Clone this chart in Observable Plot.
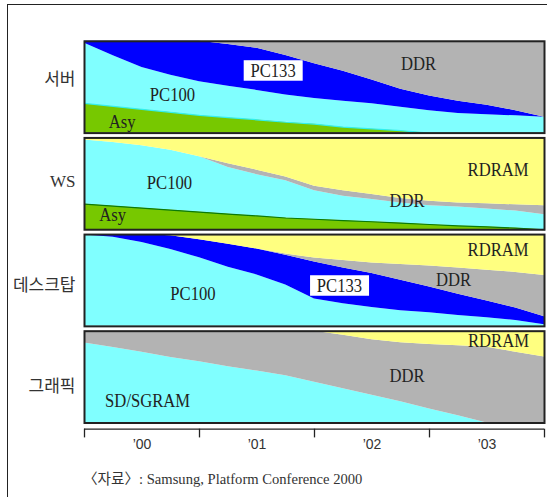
<!DOCTYPE html>
<html><head><meta charset="utf-8">
<script src="https://cdn.jsdelivr.net/npm/d3@7"></script>
<script src="https://cdn.jsdelivr.net/npm/@observablehq/plot@0.6"></script>
<style>
html,body{margin:0;padding:0;background:#fff;overflow:hidden;}
#wrap{position:relative;width:547px;height:497px;overflow:hidden;background:#fff;}
#border{position:absolute;left:7px;top:4px;width:700px;height:700px;border-left:1px solid #222;border-top:1px solid #222;}
#main{position:absolute;left:0;top:0;}
#axis{position:absolute;left:0;top:420px;}
#caption{position:absolute;left:83px;top:470.5px;font-family:"Liberation Serif","Noto Sans CJK KR";font-size:14.6px;line-height:16px;color:#333;white-space:nowrap;}
</style></head><body>
<div id="wrap"><div id="border"></div><div id="main"></div><div id="axis"></div><div id="caption">〈자료〉: Samsung, Platform Conference 2000</div></div>
<script>
// time in years since start of 2000 (quarter steps)
const t = [0, 0.25, 0.5, 0.75, 1, 1.25, 1.5, 1.75, 2, 2.25, 2.5, 2.75, 3, 3.25, 3.5, 3.75, 4];

const panels = ["서버", "WS", "데스크탑", "그래픽"];

// 서버 (share %, bottom to top)
const serverAsy   = [32.3,29.1,25.8,22.6,19.3,16.8,14.5,11.8,9.8,6.5,4.6,2.6,0,0,0,0,0];
const serverPC100 = [65.5,55.2,45.6,40.3,36.6,34.3,32.0,29.8,27.9,28.3,27.5,25.6,24.4,21.3,20.0,18.8,17.3];
const serverPC133 = [2.2,15.7,28.6,37.1,44.1,45.5,45.8,42.9,37.9,32.5,25.7,19.5,15.9,13.5,10.4,5.6,0];
const serverDDR   = [0,0,0,0,0,3.4,7.7,15.5,24.4,32.7,42.2,52.3,59.7,65.2,69.6,75.6,82.7];

// WS
const wsAsy   = [27.9,25.8,23.6,21.4,19.2,17.1,15.0,12.8,11.4,10.0,8.7,7.3,5.7,4.2,3.2,1.8,0];
const wsPC100 = [69.9,69.3,67.9,65.2,60.4,50.7,44.9,40.5,31.2,26.6,24.1,21.9,20.3,20.5,19.5,18.5,16.2];
const wsDDR   = [0,0,0,0,0,4.2,5.0,4.2,4.9,6.0,5.5,4.7,4.9,4.3,5.5,6.8,9.9];
const wsRDRAM = [2.2,4.9,8.5,13.4,20.4,28,35.1,42.5,52.5,57.4,61.7,66.1,69.1,71,71.8,72.9,73.9];

// 데스크탑
const deskPC100 = [99.4,97.1,91.3,83.6,74.7,64.5,56,45,29.8,24.6,20.6,17,14.7,11.9,9.3,6.4,1.8];
const deskPC133 = [0.6,2.9,8.7,15.2,19.6,25,28.3,32.5,40.4,39,36.9,33.1,28.1,23.1,18.3,13.5,8.7];
const deskDDR   = [0,0,0,0,0,0,0,1.2,4.2,8.1,11.5,17.2,23,28.5,33.5,38.9,44.8];
const deskRDRAM = [0,0,0,1.2,5.7,10.5,15.7,21.3,25.6,28.3,31,32.7,34.2,36.5,38.9,41.2,44.7];

// 그래픽
const grSD    = [87.2,82.2,77.1,71.3,66.6,61.3,56.6,51.5,44.4,37.3,30.3,23.1,15.2,7.9,0,0,0];
const grDDR   = [12.8,17.8,22.9,28.7,33.4,38.7,43.4,48.5,55.6,58.3,60.4,64.4,70.3,76.3,82.6,77.1,72];
const grRDRAM = [0,0,0,0,0,0,0,0,0,4.4,9.3,12.5,14.5,15.8,17.4,22.9,28];

const seriesNames  = ["Asy", "SD/SGRAM", "PC100", "PC133", "DDR", "RDRAM"];
const seriesColors = ["#77c800", "#80ffff", "#80ffff", "#0000ff", "#b3b3b3", "#ffff80"];

// in-panel labels
const labelPanel = ["서버","서버","서버","WS","WS","WS","WS","데스크탑","데스크탑","데스크탑","그래픽","그래픽","그래픽"];
const labelText  = ["DDR","PC100","Asy","PC100","Asy","DDR","RDRAM","PC100","DDR","RDRAM","RDRAM","DDR","SD/SGRAM"];
const labelT     = [2.904,0.765,0.327,0.739,0.245,2.805,3.596,0.943,3.209,3.596,3.6,2.805,0.549];
const labelV     = [75.5,41.4,12.5,51.1,16.3,30.9,64.9,35.5,50,83.1,88.8,50.7,23.7];
// boxed labels
const boxPanel = ["서버","데스크탑"];
const boxText  = ["PC133","PC133"];
const boxT     = [1.64,2.217];
const boxV     = [67.8,44.1];

// row label vertical position (share units within the panel)
const rowLabelV = [58.5, 52.9, 44.6, 40.2];

const tickPositions  = [0, 1, 2, 3, 4];
const labelPositions = [0.5, 1.5, 2.5, 3.5];
const yearLabels     = ["’00", "’01", "’02", "’03"];

const rows = [];
function add(panel, series, values) {
  values.forEach((v, i) => rows.push({panel, series, t: t[i], value: v}));
}
add("서버","Asy",serverAsy); add("서버","PC100",serverPC100); add("서버","PC133",serverPC133); add("서버","DDR",serverDDR);
add("WS","Asy",wsAsy); add("WS","PC100",wsPC100); add("WS","DDR",wsDDR); add("WS","RDRAM",wsRDRAM);
add("데스크탑","PC100",deskPC100); add("데스크탑","PC133",deskPC133); add("데스크탑","DDR",deskDDR); add("데스크탑","RDRAM",deskRDRAM);
add("그래픽","SD/SGRAM",grSD); add("그래픽","DDR",grDDR); add("그래픽","RDRAM",grRDRAM);

const labels = labelText.map((s, i) => ({panel: labelPanel[i], text: s, t: labelT[i], v: labelV[i]}));
const boxed = boxText.map((s, i) => ({panel: boxPanel[i], text: s, t: boxT[i], v: boxV[i]}));
const rowLabels = panels.map((p, i) => ({panel: p, v: rowLabelV[i]}));

const serif = "'Liberation Serif', 'Noto Sans CJK KR', serif";

const main = Plot.plot({
  width: 547, height: 424,
  marginLeft: 84, marginRight: 3, marginTop: 40.8, marginBottom: 1.5,
  style: {background: "transparent", overflow: "visible"},
  x: {domain: [0, 4], axis: null},
  y: {domain: [0, 100], axis: null},
  fy: {domain: panels, axis: null, paddingInner: 0.05, paddingOuter: 0, round: false},
  color: {domain: seriesNames, range: seriesColors},
  marks: [
    Plot.areaY(rows, {x: "t", y: "value", z: "series", fill: "series", fy: "panel", order: seriesNames, curve: "linear"}),
    Plot.lineY(rows.filter(d => d.series === "Asy" && d.panel === "서버"), {x: "t", y: "value", fy: "panel", stroke: "#30f0f0", strokeWidth: 1.2}),
    Plot.lineY(rows.filter(d => d.series === "Asy" && d.panel === "WS"), {x: "t", y: "value", fy: "panel", stroke: "#0a7a0a", strokeWidth: 1.2}),
    Plot.text(labels, {x: "t", y: "v", fy: "panel", text: "text", fontSize: 18.5, fontFamily: serif, fill: "#222", className: "plabel"}),
    Plot.text(boxed, {x: "t", y: "v", fy: "panel", text: "text", fontSize: 18.5, fontFamily: serif, fill: "#222", className: "pboxed"}),
    Plot.text(rowLabels, {fy: "panel", y: "v", frameAnchor: "left", dx: -9, textAnchor: "end", text: "panel", fontSize: 17, fontFamily: serif, fill: "#333"}),
    Plot.frame({stroke: "#222", strokeWidth: 2})
  ]
});
document.getElementById("main").appendChild(main);

// condense in-panel label glyphs and add white boxes behind boxed labels
const labelSet = new Set(labelText.concat(boxText));
const boxSet = new Set(boxText);
main.querySelectorAll("text").forEach(txt => {
  const s = txt.textContent;
  if (!labelSet.has(s)) return;
  let tr = txt.getAttribute("transform");
  if (!tr) {
    const x = +txt.getAttribute("x") || 0, y = +txt.getAttribute("y") || 0;
    txt.removeAttribute("x"); txt.removeAttribute("y");
    tr = `translate(${x},${y})`;
  }
  tr = tr + " scale(0.9,1)";
  txt.setAttribute("transform", tr);
  if (boxSet.has(s)) {
    const bb = txt.getBBox();
    const padX = 7.5, h = 20.5;
    const r = document.createElementNS("http://www.w3.org/2000/svg", "rect");
    r.setAttribute("x", bb.x - padX);
    r.setAttribute("y", bb.y + (bb.height - h) / 2);
    r.setAttribute("width", bb.width + 2 * padX);
    r.setAttribute("height", h);
    r.setAttribute("fill", "#fff");
    r.setAttribute("transform", tr);
    txt.parentNode.insertBefore(r, txt);
  }
});

const axis = Plot.plot({
  width: 547, height: 40,
  marginLeft: 84, marginRight: 3, marginTop: 0, marginBottom: 31.3,
  style: {background: "transparent", overflow: "visible", color: "#222"},
  x: {domain: [0, 4]},
  y: {domain: [0, 1], axis: null},
  marks: [
    Plot.ruleY([0], {stroke: "#222", strokeWidth: 1.3}),
    Plot.axisX({ticks: tickPositions, tickSize: 8.7, tickFormat: () => "", strokeWidth: 1.3, label: null}),
    Plot.axisX({ticks: labelPositions, tickSize: 0, tickPadding: 9.6, tickFormat: d => yearLabels[labelPositions.indexOf(d)], fontSize: 14, fontFamily: "'Liberation Sans', sans-serif", fill: "#333", label: null})
  ]
});
document.getElementById("axis").appendChild(axis);
</script>
</body></html>
